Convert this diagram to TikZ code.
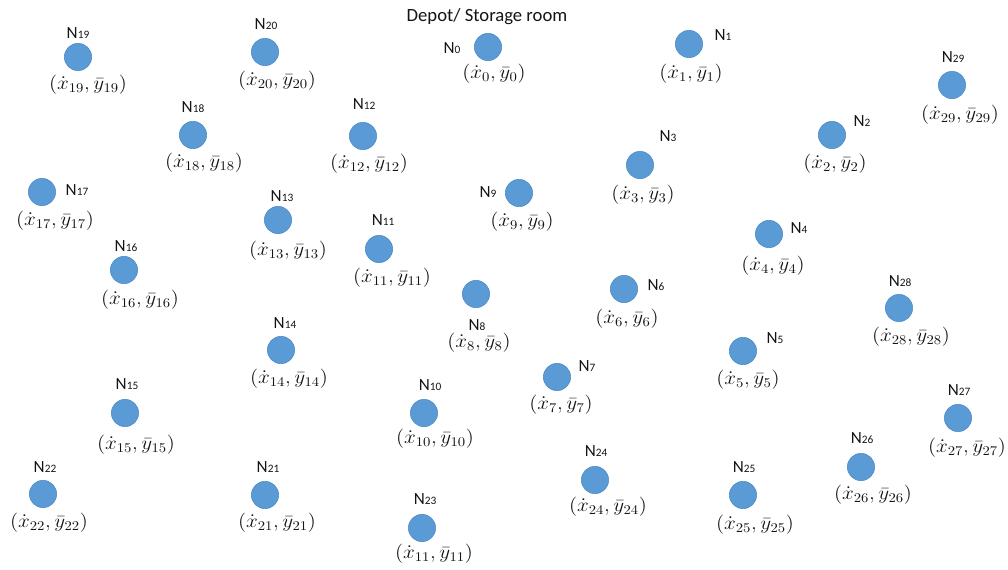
\documentclass[tikz,border=0pt]{standalone}
\usepackage{graphicx}
\usepackage{fontspec}
\setmainfont{Carlito}
\definecolor{dotfill}{RGB}{91,155,213}
\definecolor{dotline}{RGB}{76,138,198}
\definecolor{txt}{RGB}{20,20,20}
\newcommand\Nlab[1]{N{\fontsize{8.5}{9}\selectfont #1}}
\newcommand\Clab[1]{\scalebox{1.1}[1]{$(\dot{x}_{#1},\bar{y}_{#1})$}}
\tikzset{
  dotnode/.style={circle,fill=dotfill,draw=dotline,line width=0.4pt,minimum size=20.5pt,inner sep=0pt},
  namelbl/.style={inner sep=0pt,text=txt,font=\fontsize{12.8}{14}\selectfont},
  coordlbl/.style={inner sep=0pt,text=txt,font=\fontsize{14.5}{16}\selectfont},
  titlelbl/.style={inner sep=0pt,text=txt,font=\fontsize{14}{16}\selectfont}
}
\begin{document}
\begin{tikzpicture}[x=0.75pt,y=-0.75pt]
\useasboundingbox (0,0) rectangle (1008,570);
\node[titlelbl] (title) at (487,17) {Depot/ Storage room};
\foreach \i/\cx/\cy/\lx/\ly/\tx/\ty/\s in {
 0/488/47/452/48/494/74/0,
 1/689/44/723/35/691/74/1,
 2/832/135/862/121/835/164/2,
 3/640/165/668/136/643/195/3,
 4/769/234/799/228/773/266/4,
 5/743/351/775/338/748/380/5,
 6/624/289/656/285/627/319/6,
 7/557/377/587/366/561/405/7,
 8/476/294/477/325/479/343/8,
 9/519/193/488/192/522/222/9,
 10/424/413/430/385/435/439/10,
 11/379/249/383/220/392/278/11,
 12/363/136/364/104/369/164/12,
 13/278/220/282/196/288/251/13,
 14/281/350/285/323/289/379/14,
 15/125/413/127/384/136/445/15,
 16/124/270/126/246/140/300/16,
 17/42/192/77/190/55/221/17,
 18/193/135/193/107/204/163/18,
 19/78/57/78/33/88/85/19,
 20/265/52/266/24/277/81/20,
 21/265/495/268/467/277/523/21,
 22/43/494/45/467/49/523/22,
 23/422/528/425/499/434/554/11,
 24/595/480/596/451/608/507/24,
 25/743/495/744/467/755/525/25,
 26/861/467/862/438/873/495/26,
 27/958/418/959/390/967/448/27,
 28/899/308/900/281/911/337/28,
 29/952/85/953/57/960/115/29}{
  \node[dotnode] (n\i) at (\cx,\cy) {};
  \node[namelbl] (l\i) at (\lx,\ly) {\Nlab{\i}};
  \node[coordlbl] (c\i) at (\tx,\ty) {\Clab{\s}};
}
\end{tikzpicture}
\end{document}
